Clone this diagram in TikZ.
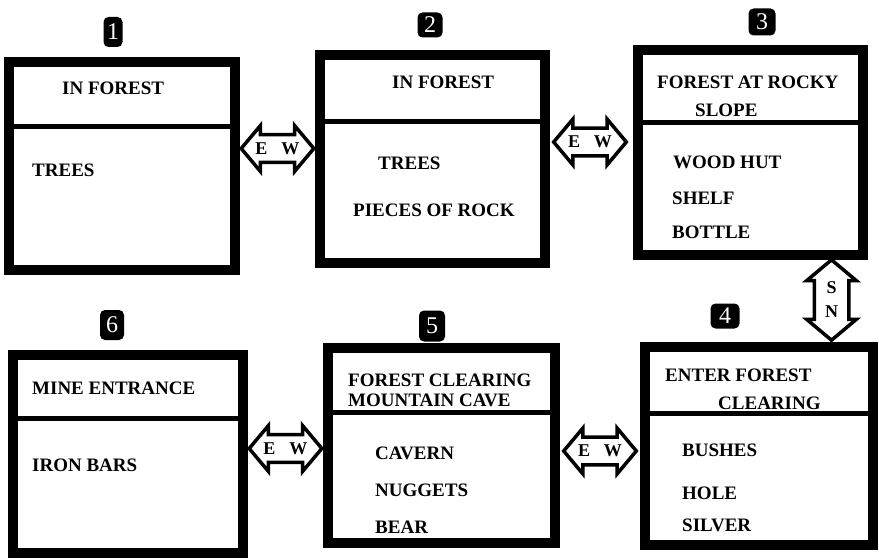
\documentclass[tikz,border=0pt]{standalone}
\usepackage{fontspec}
\setmainfont{Liberation Serif}
\usetikzlibrary{shapes,arrows,positioning}

\begin{document}
\begin{tikzpicture}[x=1pt,y=-1pt,
    room/.style={draw, line width=10pt, inner sep=0pt, outer sep=0pt},
    split/.style={line width=5pt},
    item/.style={anchor=west, inner sep=0pt, font=\fontsize{19}{20}\selectfont\bfseries},
    roomno/.style={fill=black, text=white, rounded corners=5pt, inner sep=0pt, minimum width=24pt, minimum height=28pt, font=\fontsize{24}{24}\selectfont},
    ew/.style={double arrow, draw, line width=3.5pt, fill=white, inner xsep=1pt, inner ysep=6pt, double arrow head extend=9pt, double arrow tip angle=100, minimum height=71pt, font=\fontsize{18}{24}\selectfont\bfseries}]
    \useasboundingbox (0,0) rectangle (879,559);

    % Room 1
    \node[room, minimum width=226pt, minimum height=208pt] (r1) at (122,166) {};
    \draw[split] (r1.west |- 0,127) -- (r1.east |- 0,127);
    \node[item] (t1) at (62,88) {IN FOREST};
    \node[item] (i11) at (32,170) {TREES};

    % Room 2
    \node[room, minimum width=225pt, minimum height=208pt] (r2) at (432.5,159) {};
    \draw[split] (r2.west |- 0,122) -- (r2.east |- 0,122);
    \node[item] (t2) at (392,82) {IN FOREST};
    \node[item] (i21) at (378,163) {TREES};
    \node[item] (i22) at (353,210) {PIECES OF ROCK};

    % Room 3
    \node[room, minimum width=225pt, minimum height=205pt] (r3) at (750.5,152.5) {};
    \draw[split] (r3.west |- 0,123) -- (r3.east |- 0,123);
    \node[item] (t3) at (657,82) {FOREST AT ROCKY};
    \node[item] (t3b) at (695,110) {SLOPE};
    \node[item] (i31) at (673,162) {WOOD HUT};
    \node[item] (i32) at (672,198) {SHELF};
    \node[item] (i33) at (672,232) {BOTTLE};

    % Room 4
    \node[room, minimum width=228pt, minimum height=198pt] (r4) at (759,446) {};
    \draw[split] (r4.west |- 0,413) -- (r4.east |- 0,413);
    \node[item] (t4) at (665,375) {ENTER FOREST};
    \node[item] (t4b) at (718,403) {CLEARING};
    \node[item] (i41) at (682,450) {BUSHES};
    \node[item] (i42) at (682,493) {HOLE};
    \node[item] (i43) at (682,525) {SILVER};

    % Room 5
    \node[room, minimum width=227pt, minimum height=195pt] (r5) at (441.5,445.5) {};
    \draw[split] (r5.west |- 0,412) -- (r5.east |- 0,412);
    \node[item] (t5) at (348,380) {FOREST CLEARING};
    \node[item] (t5b) at (348,400) {MOUNTAIN CAVE};
    \node[item] (i51) at (375,453) {CAVERN};
    \node[item] (i52) at (375,490) {NUGGETS};
    \node[item] (i53) at (375,527) {BEAR};

    % Room 6
    \node[room, minimum width=230pt, minimum height=198pt] (r6) at (128,454) {};
    \draw[split] (r6.west |- 0,418) -- (r6.east |- 0,418);
    \node[item] (t6) at (32,388) {MINE ENTRANCE};
    \node[item] (i61) at (32,465) {IRON BARS};

    % Room numbers
    \node[roomno, minimum width=19pt, minimum height=30pt] (n1) at (113,32) {1};
    \node[roomno, minimum width=25pt, minimum height=25pt] (n2) at (430,25) {2};
    \node[roomno, minimum width=27pt, minimum height=27pt] (n3) at (762,22) {3};
    \node[roomno, minimum width=29pt, minimum height=25pt] (n4) at (725,316) {4};
    \node[roomno, minimum width=26pt, minimum height=31pt] (n5) at (432,326) {5};
    \node[roomno, minimum width=24pt, minimum height=30pt] (n6) at (112,325) {6};

    % Exits
    \node[ew] (a12) at (277.5,148.5) {E\hspace{14pt}W};
    \node[ew] (a23) at (590,142) {E\hspace{14pt}W};
    \node[ew, shape border rotate=90, align=center, inner xsep=9pt, double arrow head extend=7.5pt] (a34) at (831.5,300) {S\\N};
    \node[ew] (a56) at (285.5,448.5) {E\hspace{14pt}W};
    \node[ew] (a45) at (600,451) {E\hspace{14pt}W};
\end{tikzpicture}
\end{document}
